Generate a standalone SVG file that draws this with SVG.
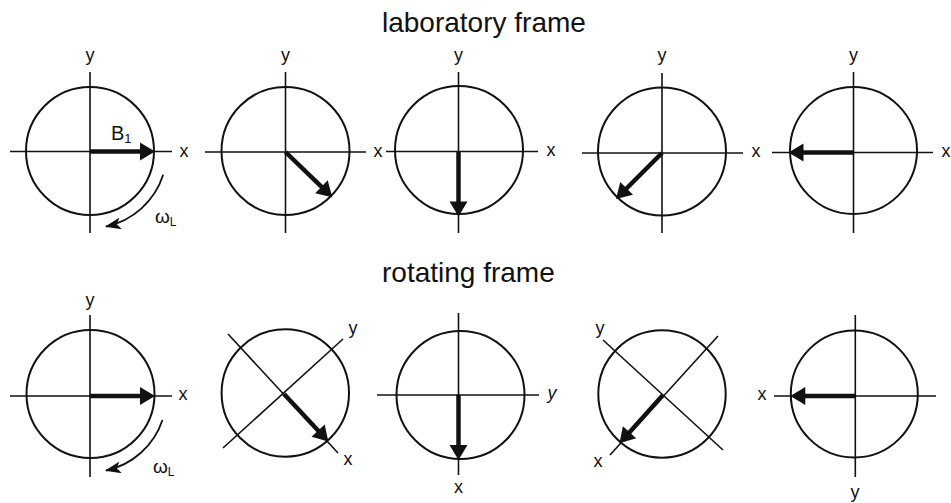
<svg xmlns="http://www.w3.org/2000/svg" xmlns:xlink="http://www.w3.org/1999/xlink" width="951" height="503" viewBox="0 0 951 503">
<style>
.c{fill:none;stroke:#111;stroke-width:2}
.ax{stroke:#111;stroke-width:1.6;fill:none}
.v line{stroke:#111;stroke-width:4.5}
.v path{fill:#111}
.t{font-family:"Liberation Sans",Arial,sans-serif;fill:#111}
.lb{font-size:18px;text-anchor:middle}
.ttl{font-size:28px}
.rot{fill:none;stroke:#111;stroke-width:1.8}
</style>
<defs>
<g id="vec" class="v"><line x1="0" y1="0" x2="52" y2="0"/><path d="M50,-9 L65,0 L50,9 Z"/></g>
<marker id="arr" markerUnits="userSpaceOnUse" markerWidth="16" markerHeight="12" viewBox="0 0 16 12" refX="15" refY="6" orient="auto"><path d="M0,0 L16,6 L0,12 L4,6 Z" fill="#111"/></marker>
</defs>
<text class="t ttl" x="382" y="32">laboratory frame</text>
<text class="t ttl" x="382" y="282">rotating frame</text>

<g id="lab1">
<circle class="c" cx="90" cy="151" r="64"/>
<line class="ax" x1="90" y1="72" x2="90" y2="233"/>
<line class="ax" x1="10" y1="151.5" x2="172" y2="151.5"/>
<use xlink:href="#vec" transform="translate(90,151.5)"/>
<text class="t lb" x="90" y="61">y</text>
<text class="t lb" x="184" y="157">x</text>
<text class="t" x="111" y="140" font-size="20">B<tspan font-size="13" dy="3">1</tspan></text>
<text class="t" x="155" y="223" font-size="19">ω<tspan font-size="12" dy="3">L</tspan></text>
</g>
<g id="lab2">
<circle class="c" cx="285.5" cy="151" r="64"/>
<line class="ax" x1="285.5" y1="72" x2="285.5" y2="233"/>
<line class="ax" x1="205" y1="152" x2="366" y2="152"/>
<use xlink:href="#vec" transform="translate(285.5,152) rotate(44)"/>
<text class="t lb" x="285.5" y="61">y</text>
<text class="t lb" x="378" y="157">x</text>
</g>
<g id="lab3">
<circle class="c" cx="459" cy="150" r="64"/>
<line class="ax" x1="458.5" y1="72" x2="458.5" y2="233"/>
<line class="ax" x1="386" y1="151.5" x2="538" y2="151.5"/>
<use xlink:href="#vec" transform="translate(458.5,151.5) rotate(90)"/>
<text class="t lb" x="458.5" y="61">y</text>
<text class="t lb" x="551" y="156">x</text>
</g>
<g id="lab4">
<circle class="c" cx="662" cy="151.5" r="64"/>
<line class="ax" x1="662" y1="73" x2="662" y2="233"/>
<line class="ax" x1="582" y1="153" x2="743" y2="153"/>
<use xlink:href="#vec" transform="translate(662,153) rotate(135)"/>
<text class="t lb" x="662" y="61">y</text>
<text class="t lb" x="756" y="157">x</text>
</g>
<g id="lab5">
<circle class="c" cx="853.5" cy="150.5" r="63.5"/>
<line class="ax" x1="853.5" y1="72" x2="853.5" y2="233"/>
<line class="ax" x1="772" y1="152.5" x2="933" y2="152.5"/>
<use xlink:href="#vec" transform="translate(853.5,152.5) rotate(180)"/>
<text class="t lb" x="853.5" y="61">y</text>
<text class="t lb" x="946" y="157">x</text>
</g>

<g id="rot1">
<circle class="c" cx="90.5" cy="394" r="64"/>
<line class="ax" x1="90" y1="315" x2="90" y2="477"/>
<line class="ax" x1="10" y1="396" x2="172" y2="396"/>
<use xlink:href="#vec" transform="translate(90,396)"/>
<text class="t lb" x="90" y="306">y</text>
<text class="t lb" x="183" y="400">x</text>
<text class="t" x="153" y="473" font-size="19">ω<tspan font-size="12" dy="3">L</tspan></text>
</g>
<g id="rot2">
<circle class="c" cx="285.3" cy="393" r="63.7"/>
<line class="ax" x1="228" y1="334" x2="338" y2="453"/>
<line class="ax" x1="223" y1="448" x2="343" y2="339"/>
<use xlink:href="#vec" transform="translate(284,394) rotate(47)"/>
<text class="t lb" x="353" y="334">y</text>
<text class="t lb" x="348" y="465">x</text>
</g>
<g id="rot3">
<circle class="c" cx="460.5" cy="395" r="64"/>
<line class="ax" x1="458.5" y1="313" x2="458.5" y2="475"/>
<line class="ax" x1="377" y1="395" x2="539" y2="395"/>
<use xlink:href="#vec" transform="translate(458.5,395) rotate(90)"/>
<text class="t lb" x="552" y="399" font-style="italic">y</text>
<text class="t lb" x="458.5" y="493">x</text>
</g>
<g id="rot4">
<circle class="c" cx="662" cy="394" r="63.7"/>
<line class="ax" x1="603" y1="340" x2="723" y2="450"/>
<line class="ax" x1="610" y1="455" x2="718" y2="336"/>
<use xlink:href="#vec" transform="translate(663,395) rotate(132)"/>
<text class="t lb" x="600" y="334">y</text>
<text class="t lb" x="598" y="467">x</text>
</g>
<g id="rot5">
<circle class="c" cx="854.3" cy="394" r="63.5"/>
<line class="ax" x1="855.3" y1="315" x2="855.3" y2="477"/>
<line class="ax" x1="774" y1="396" x2="936" y2="396"/>
<use xlink:href="#vec" transform="translate(855.3,396) rotate(180)"/>
<text class="t lb" x="762" y="400">x</text>
<text class="t lb" x="855" y="498">y</text>
</g>

<g id="connectors">
<path class="rot" d="M163.2,174.8 A77,77 0 0 1 106,226.5" marker-end="url(#arr)"/>
<path class="rot" d="M162.5,420 A76.5,76.5 0 0 1 106,470.5" marker-end="url(#arr)"/>
</g>
</svg>
